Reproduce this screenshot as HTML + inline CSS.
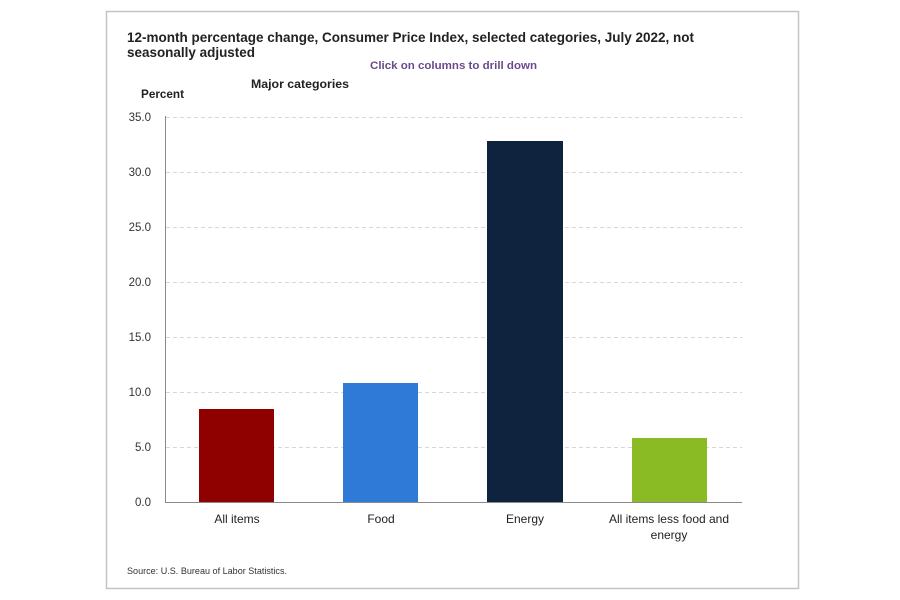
<!DOCTYPE html>
<html><head><meta charset="utf-8"><style>
html,body{margin:0;padding:0;background:#fff;}
svg{display:block;}
</style></head><body>
<svg width="900" height="600" viewBox="0 0 900 600" xmlns="http://www.w3.org/2000/svg" font-family="Liberation Sans, sans-serif">
<rect x="0" y="0" width="900" height="600" fill="#fff"/>
<rect x="106.5" y="11.5" width="692" height="577" fill="#fff" stroke="#c4c4c4" stroke-width="1.5"/>
<text x="127" y="42" font-size="14" font-weight="bold" fill="#222" textLength="567" lengthAdjust="spacingAndGlyphs">12-month percentage change, Consumer Price Index, selected categories, July 2022, not</text>
<text x="127" y="57" font-size="14" font-weight="bold" fill="#222" textLength="128" lengthAdjust="spacingAndGlyphs">seasonally adjusted</text>
<text x="370" y="69" font-size="11" font-weight="bold" fill="#6a4a8c" textLength="167" lengthAdjust="spacingAndGlyphs">Click on columns to drill down</text>
<text x="251" y="88" font-size="11.5" font-weight="bold" fill="#222" textLength="98" lengthAdjust="spacingAndGlyphs">Major categories</text>
<text x="141" y="98" font-size="11.5" font-weight="bold" fill="#222" textLength="43" lengthAdjust="spacingAndGlyphs">Percent</text>
<g stroke="#d8d8d8" stroke-width="1" stroke-dasharray="4,3">
<line x1="166" y1="117.5" x2="742" y2="117.5"/>
<line x1="166" y1="172.5" x2="742" y2="172.5"/>
<line x1="166" y1="227.5" x2="742" y2="227.5"/>
<line x1="166" y1="282.5" x2="742" y2="282.5"/>
<line x1="166" y1="337.5" x2="742" y2="337.5"/>
<line x1="166" y1="392.5" x2="742" y2="392.5"/>
<line x1="166" y1="447.5" x2="742" y2="447.5"/>
</g>
<g font-size="11.5" fill="#333" text-anchor="end">
<text x="151" y="121">35.0</text>
<text x="151" y="176">30.0</text>
<text x="151" y="231">25.0</text>
<text x="151" y="286">20.0</text>
<text x="151" y="341">15.0</text>
<text x="151" y="396">10.0</text>
<text x="151" y="451">5.0</text>
<text x="151" y="506">0.0</text>
</g>
<rect x="199" y="409" width="75" height="93" fill="#8f0000"/>
<rect x="343" y="383" width="75" height="119" fill="#2e7ad6"/>
<rect x="487" y="141" width="76" height="361" fill="#0f233e"/>
<rect x="632" y="438" width="75" height="64" fill="#8aba24"/>
<line x1="165.5" y1="116" x2="165.5" y2="503" stroke="#8a8a8a" stroke-width="1"/>
<line x1="165" y1="502.5" x2="742" y2="502.5" stroke="#8a8a8a" stroke-width="1"/>
<g font-size="12" fill="#222" text-anchor="middle">
<text x="237" y="523">All items</text>
<text x="381" y="523">Food</text>
<text x="525" y="523">Energy</text>
<text x="669" y="523">All items less food and</text>
<text x="669" y="539">energy</text>
</g>
<text x="127" y="574" font-size="9" fill="#333" textLength="160" lengthAdjust="spacingAndGlyphs">Source: U.S. Bureau of Labor Statistics.</text>
</svg>
</body></html>
